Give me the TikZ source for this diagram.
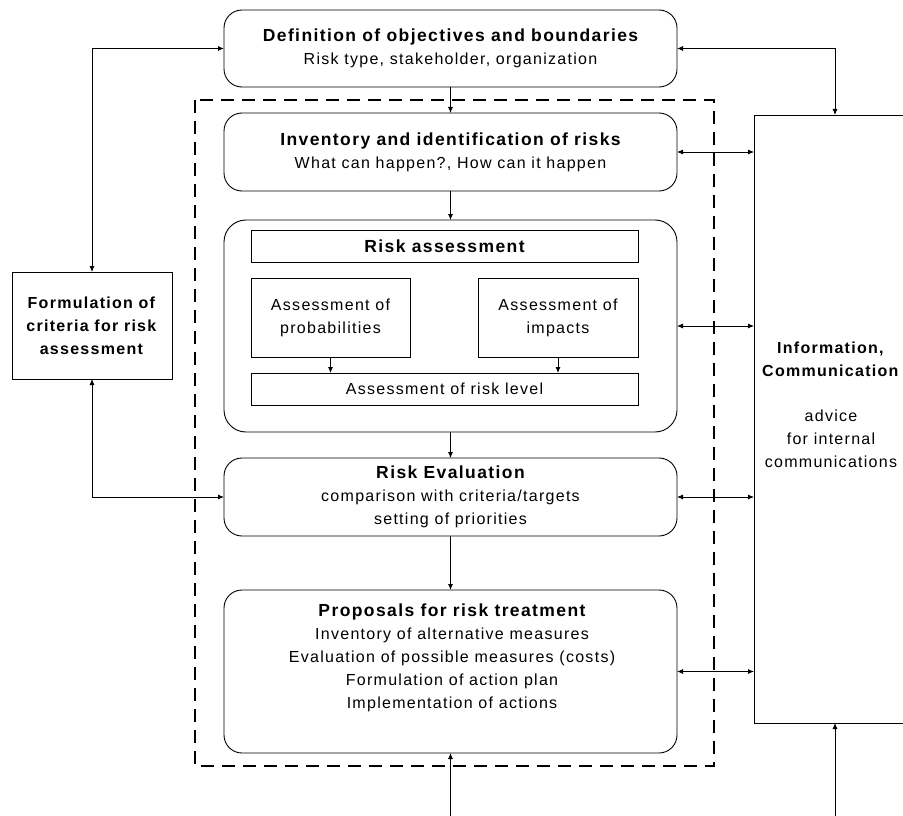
\documentclass[tikz,border=0pt]{standalone}
\usepackage{fontspec}
\setmainfont{Liberation Sans}[LetterSpace=8]
\usetikzlibrary{arrows.meta,positioning}
\newcommand\boxtitle[1]{{\fontsize{17.5}{23}\selectfont\bfseries #1}}

\begin{document}
\begin{tikzpicture}[x=1pt,y=-1pt,
  every node/.style={font=\fontsize{16}{23}\selectfont, inner sep=0pt, outer sep=0pt},
  rbox/.style={draw, line width=0.9pt, rounded corners=18pt, minimum width=453pt, align=center},
  sbox/.style={draw, line width=0.9pt, align=center},
  txt/.style={align=center},
  conn/.style={line width=0.8pt, -{Latex[length=6pt,width=5pt]}},
  both/.style={line width=0.8pt, {Latex[length=6pt,width=5pt]}-{Latex[length=6pt,width=5pt]}},
  dashbox/.style={line width=2.4pt, dash pattern=on 13pt off 8pt}]
\useasboundingbox (0,0) rectangle (903,816);

% main column
\node[rbox, minimum height=77pt] (def) at (450.5,48.5) {\boxtitle{Definition of objectives and boundaries}\\Risk type, stakeholder, organization};
\node[rbox, minimum height=78pt] (inv) at (450.5,152) {\boxtitle{Inventory and identification of risks}\\What can happen?, How can it happen};
\node[rbox, minimum height=212pt, rounded corners=22pt] (ra) at (450.5,326) {};
\node[rbox, minimum height=78pt] (eval) at (450.5,497) {\boxtitle{Risk Evaluation}\\comparison with criteria/targets\\setting of priorities};
\node[rbox, minimum height=163pt] (prop) at (450.5,671.5) {};
\node[txt] (proptxt) at (452,658) {\boxtitle{Proposals for risk treatment}\\Inventory of alternative measures\\Evaluation of possible measures (costs)\\Formulation of action plan\\Implementation of actions};

% inside risk assessment
\node[sbox, minimum width=387pt, minimum height=32pt] (rahead) at (444.5,246) {\boxtitle{Risk assessment}};
\node[sbox, minimum width=159pt, minimum height=79pt] (prob) at (330.5,317.5) {Assessment of\\probabilities};
\node[sbox, minimum width=160pt, minimum height=79pt] (imp) at (558,317.5) {Assessment of\\impacts};
\node[sbox, minimum width=387pt, minimum height=32pt] (lvl) at (444.5,389) {Assessment of risk level};

% side boxes
\node[sbox, minimum width=160pt, minimum height=107pt] (crit) at (92,325.5) {\textbf{Formulation of}\\\textbf{criteria for risk}\\\textbf{assessment}};
\node[sbox, minimum width=162pt, minimum height=608pt] (info) at (835,419) {};
\node[txt] (infotxt) at (831,405) {\textbf{Information,}\\\textbf{Communication}\\[22pt]advice\\for internal\\communications};

% dashed frame
\draw[dashbox] (195,100) rectangle (714,766);

% connectors
\draw[conn] (def) -- (inv);
\draw[conn] (inv) -- (ra);
\draw[conn] (ra) -- (eval);
\draw[conn] (eval) -- (prop);
\draw[conn] (prob.south) -- (prob.south |- lvl.north);
\draw[conn] (imp.south) -- (imp.south |- lvl.north);
\draw[both] (crit.north) |- (def.west);
\draw[both] (info.north) |- (def.east);
\draw[both] (crit.south) |- (eval.west);
\draw[both] (inv.east) -- (inv.east -| info.west);
\draw[both] (ra.east) -- (ra.east -| info.west);
\draw[both] (eval.east) -- (eval.east -| info.west);
\draw[both] (prop.east) -- (prop.east -| info.west);
\coordinate (propin) at (450.5,816);
\coordinate (infoin) at (835,816);
\draw[conn] (propin) -- (prop.south);
\draw[conn] (infoin) -- (info.south);
\end{tikzpicture}
\end{document}
